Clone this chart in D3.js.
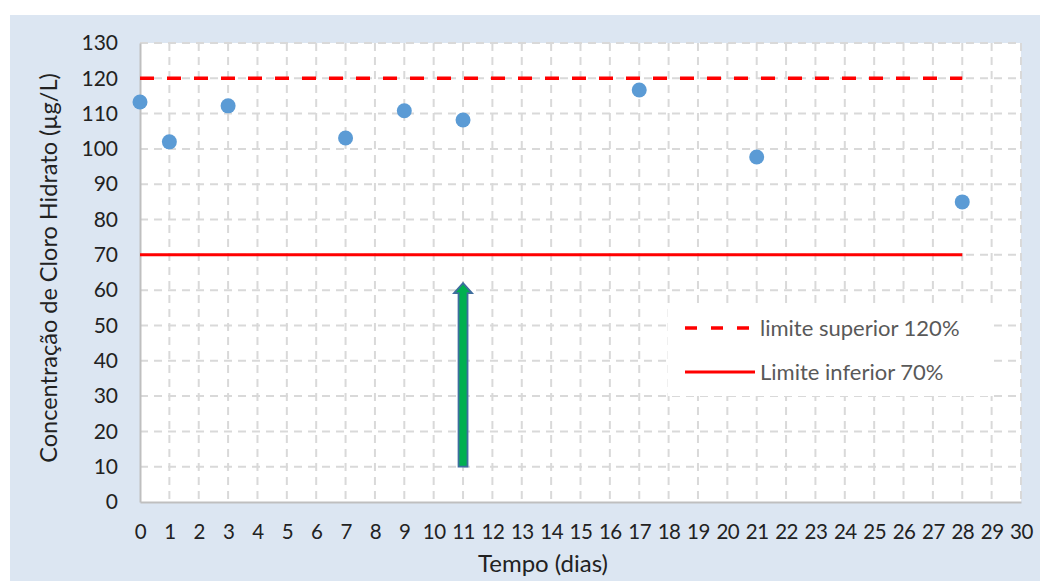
<!DOCTYPE html>
<html><head><meta charset="utf-8">
<script src="https://cdn.jsdelivr.net/npm/d3@7"></script>
<style>body{margin:0;background:#fff}svg{display:block}</style>
</head><body>
<svg id="c" width="1040" height="581"></svg>
<script>
const days = [0, 1, 3, 7, 9, 11, 17, 21, 28];
const conc = [113.3, 102, 112.2, 103.1, 110.8, 108.2, 116.7, 97.7, 85];
const xTicks = d3.range(0, 31);
const yTicks = d3.range(0, 131, 10);
const upperLimit = 120, lowerLimit = 70;
const limitRange = [0, 28];
const arrowDay = 11, arrowFrom = 10, arrowTo = 62;
const legendLabels = ["limite superior 120%", "Limite inferior 70%"];

const font = "Lato, 'Open Sans', sans-serif";
const svg = d3.select("#c");
svg.append("rect").attr("x",10).attr("y",15).attr("width",1030).attr("height",566).attr("fill","#dce6f2");
const L=140,R=1021,T=43,B=502;
svg.append("rect").attr("x",L).attr("y",T).attr("width",R-L).attr("height",B-T).attr("fill","#fff");
const x=d3.scaleLinear().domain([0,30]).range([L,R]);
const y=d3.scaleLinear().domain([0,130]).range([B,T]);
const g=svg.append("g");
g.selectAll(".hg").data(yTicks.filter(d=>d>0)).join("line").attr("x1",L).attr("x2",R)
 .attr("y1",d=>y(d)).attr("y2",d=>y(d)).attr("stroke","#d9d9d9").attr("stroke-width",2).attr("stroke-dasharray","8,6");
g.selectAll(".vg").data(xTicks.filter(d=>d>0)).join("line").attr("y1",T).attr("y2",B)
 .attr("x1",d=>x(d)).attr("x2",d=>x(d)).attr("stroke","#d9d9d9").attr("stroke-width",2).attr("stroke-dasharray","8,6");
// axes
const ax=svg.append("g").attr("transform",`translate(0,${B})`).call(d3.axisBottom(x).tickValues(xTicks).tickSize(0).tickPadding(22).tickFormat(d3.format("d")));
ax.select(".domain").attr("stroke","#bfbfbf").attr("stroke-width",2);
ax.selectAll("text").attr("font-family",font).attr("font-size",20.5).attr("fill","#222").attr("letter-spacing","-0.5");
const ay=svg.append("g").attr("transform",`translate(${L},0)`).call(d3.axisLeft(y).tickValues(yTicks).tickSize(0).tickPadding(22));
ay.select(".domain").attr("stroke","#bfbfbf").attr("stroke-width",2);
ay.selectAll("text").attr("font-family",font).attr("font-size",21).attr("fill","#222");
// limit lines
svg.append("line").attr("x1",x(limitRange[0])).attr("x2",x(limitRange[1])).attr("y1",y(upperLimit)).attr("y2",y(upperLimit))
 .attr("stroke","#ff0000").attr("stroke-width",3.5).attr("stroke-dasharray","14,13");
svg.append("line").attr("x1",x(limitRange[0])).attr("x2",x(limitRange[1])).attr("y1",y(lowerLimit)).attr("y2",y(lowerLimit))
 .attr("stroke","#ff0000").attr("stroke-width",3);
// points
svg.selectAll(".pt").data(days.map((d,i)=>[d,conc[i]])).join("circle")
 .attr("cx",d=>x(d[0])).attr("cy",d=>y(d[1])).attr("r",7.5).attr("fill","#5b9bd5");
// arrow
const ax0=x(arrowDay), yb=y(arrowFrom), yt=y(arrowTo);
const bw=4.5, hw=9, hh=10;
svg.append("path").attr("d",`M${ax0-bw},${yb} L${ax0-bw},${yt+hh} L${ax0-hw},${yt+hh} L${ax0},${yt} L${ax0+hw},${yt+hh} L${ax0+bw},${yt+hh} L${ax0+bw},${yb} Z`)
 .attr("fill","#00b050").attr("stroke","#3f6e9e").attr("stroke-width",1.8);
// legend
const lg=svg.append("g");
lg.append("rect").attr("x",668).attr("y",308).attr("width",325).attr("height",88).attr("fill","#fff");
lg.append("line").attr("x1",685).attr("x2",752).attr("y1",328).attr("y2",328).attr("stroke","#ff0000").attr("stroke-width",3.5).attr("stroke-dasharray","12,14");
lg.append("line").attr("x1",685).attr("x2",755).attr("y1",372).attr("y2",372).attr("stroke","#ff0000").attr("stroke-width",3);
lg.selectAll("text").data(legendLabels).join("text").attr("x",760).attr("y",(d,i)=>328+i*44).attr("dy","0.35em")
 .attr("font-family",font).attr("font-size",22).attr("fill","#595959").text(d=>d);
// titles
svg.append("text").attr("x",543).attr("y",572).attr("text-anchor","middle").attr("font-family",font).attr("font-size",24).attr("fill","#222").text("Tempo (dias)");
svg.append("text").attr("transform",`translate(57,268) rotate(-90)`).attr("text-anchor","middle").attr("font-family",font).attr("font-size",23.5).attr("fill","#222").text("Concentração de Cloro Hidrato (µg/L)");
</script>
</body></html>
